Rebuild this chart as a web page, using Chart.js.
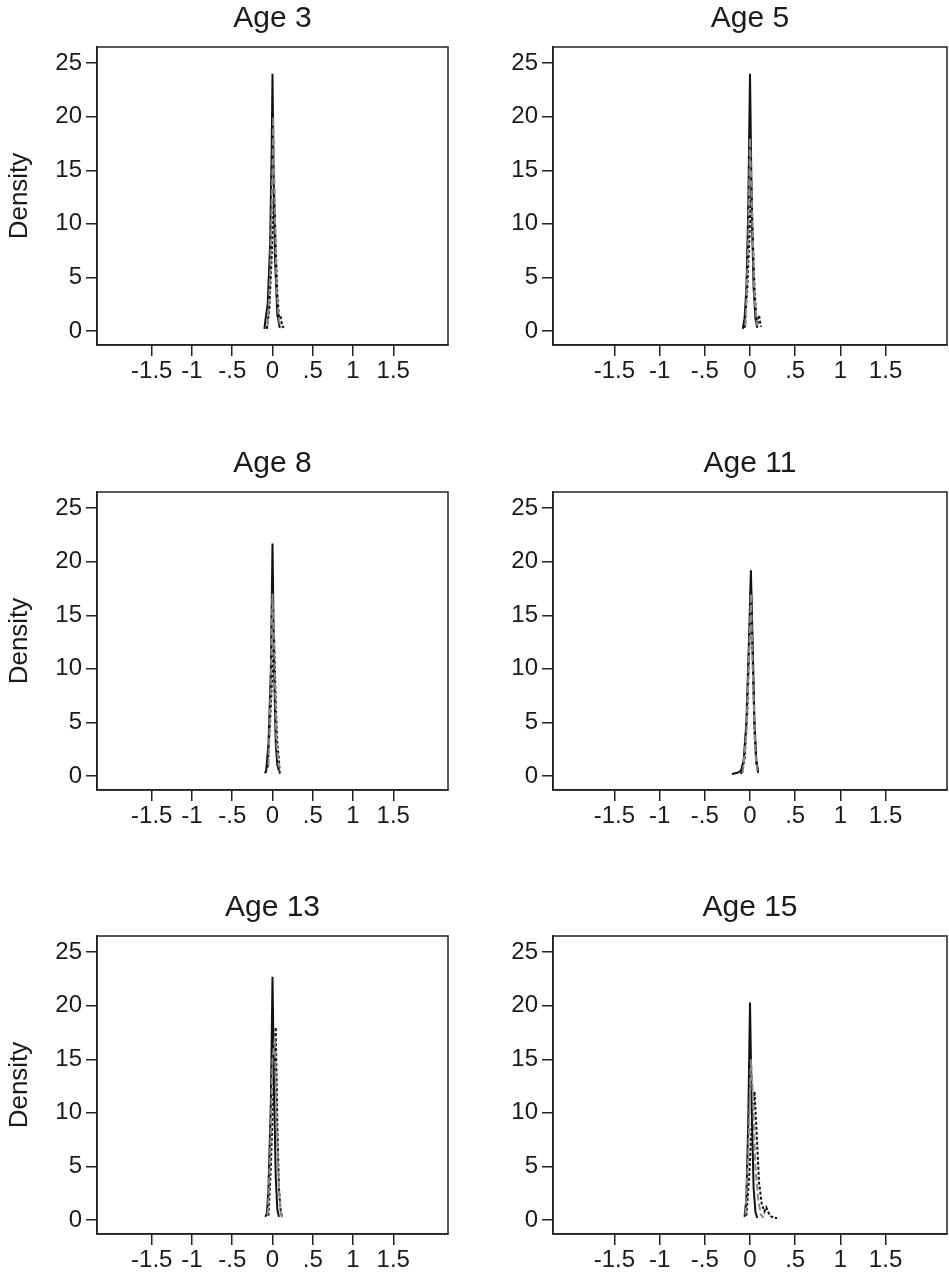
<!DOCTYPE html>
<html>
<head>
<meta charset="utf-8">
<script src="https://cdn.jsdelivr.net/npm/chart.js@4.4.0/dist/chart.umd.min.js"></script>
<style>
  html, body { margin: 0; padding: 0; background: #fff; overflow: hidden; }
  #wrap { position: relative; width: 949px; height: 1274px; }
  canvas { position: absolute; }
</style>
</head>
<body>
<div id="wrap">
  <canvas id="p0" width="470" height="389" style="left:0px;top:0px"></canvas>
  <canvas id="p1" width="479" height="389" style="left:470px;top:0px"></canvas>
  <canvas id="p2" width="470" height="389" style="left:0px;top:445px"></canvas>
  <canvas id="p3" width="479" height="389" style="left:470px;top:445px"></canvas>
  <canvas id="p4" width="470" height="389" style="left:0px;top:889px"></canvas>
  <canvas id="p5" width="479" height="389" style="left:470px;top:889px"></canvas>
</div>
<script>
// panel titles
const ages = ["Age 3", "Age 5", "Age 8", "Age 11", "Age 13", "Age 15"];

// axis ticks
const xTicks = [-1.5, -1, -0.5, 0, 0.5, 1, 1.5];
const xTickLabels = ["-1.5", "-1", "-.5", "0", ".5", "1", "1.5"];
const yTicks = [0, 5, 10, 15, 20, 25];

// density curves, [x, density] pairs
const age3Solid = [[-0.1,0.2],[-0.09,0.9],[-0.06,2.5],[-0.03,8],[-0.01,17],[0,24],[0.01,17],[0.03,7],[0.06,1.5],[0.09,0.3]];
const age3Dash  = [[-0.07,0.2],[-0.04,2],[-0.01,7],[0.02,13],[0.04,8],[0.06,3.5],[0.08,1.3],[0.1,1.4],[0.12,0.5],[0.14,0.3]];
const age3Gray  = [[-0.06,0.5],[-0.03,5],[0,15],[0.01,20],[0.03,11],[0.05,4],[0.08,1],[0.11,0.3]];

const age5Solid = [[-0.08,0.2],[-0.06,1.2],[-0.04,4],[-0.02,11],[0,24],[0.02,11],[0.04,4],[0.06,1.2],[0.08,0.3]];
const age5Dash  = [[-0.06,0.3],[-0.03,4],[0,10],[0.01,15],[0.03,9],[0.05,4],[0.07,1.3],[0.08,0.5],[0.1,1.5],[0.12,0.4]];
const age5Gray  = [[-0.05,0.5],[-0.02,8],[0,18],[0.02,12],[0.05,3],[0.08,0.5]];

const age8Solid = [[-0.1,0.3],[-0.08,0.4],[-0.05,3],[-0.02,10],[0,21.7],[0.02,10],[0.04,3],[0.06,1],[0.08,0.5]];
const age8Dash  = [[-0.06,0.8],[-0.03,5],[0,10],[0.02,13],[0.04,7],[0.06,3],[0.08,1.5],[0.09,0.3],[0.11,0.3]];
const age8Gray  = [[-0.05,1],[-0.02,9],[0,17],[0.02,12],[0.05,3],[0.08,0.8]];

const age11Solid = [[-0.2,0.2],[-0.14,0.3],[-0.1,0.5],[-0.07,1.5],[-0.04,5],[-0.01,13],[0.01,19.2],[0.03,12],[0.05,5],[0.07,1.5],[0.09,0.4]];
const age11Dash  = [[-0.1,0.2],[-0.06,1.5],[-0.03,6],[0,14],[0.01,18],[0.03,11],[0.05,4],[0.07,1.2],[0.09,0.3]];
const age11Gray  = [[-0.08,0.3],[-0.04,4],[0,14],[0.01,17],[0.03,10],[0.06,2],[0.08,0.5]];

const age13Solid = [[-0.09,0.3],[-0.07,0.6],[-0.05,3],[-0.02,11],[0,22.7],[0.02,12],[0.04,4],[0.06,1],[0.08,0.3]];
const age13Dash  = [[-0.05,0.4],[-0.02,5],[0.01,12],[0.04,18],[0.06,9],[0.08,3],[0.1,1],[0.12,0.2]];
const age13Gray  = [[-0.06,0.5],[-0.03,6],[0,15],[0.03,17],[0.05,9],[0.08,3],[0.1,0.8],[0.12,0.2]];

const age15Solid = [[-0.06,0.3],[-0.04,2],[-0.02,9],[0,20.3],[0.02,10],[0.04,3],[0.06,0.8],[0.08,0.2]];
const age15Dash  = [[-0.04,0.4],[-0.01,4],[0.02,9],[0.05,12],[0.08,7],[0.1,3.5],[0.13,1.5],[0.16,0.8],[0.18,1.2],[0.22,0.4],[0.27,0.2],[0.3,0.2]];
const age15Gray  = [[-0.05,0.5],[-0.02,6],[0.01,15],[0.03,12],[0.06,5],[0.09,2],[0.12,0.5],[0.15,0.2]];

const solids = [age3Solid, age5Solid, age8Solid, age11Solid, age13Solid, age15Solid];
const dashes = [age3Dash, age5Dash, age8Dash, age11Dash, age13Dash, age15Dash];
const grays  = [age3Gray, age5Gray, age8Gray, age11Gray, age13Gray, age15Gray];

const FONT = "'Liberation Sans', Arial, sans-serif";
const INK = '#1a1a1a';

// full box round the plot area
const frame = {
  id: 'frame',
  afterDraw(chart) {
    const {left, top, right, bottom} = chart.chartArea;
    const ctx = chart.ctx;
    ctx.save();
    ctx.strokeStyle = '#222';
    ctx.lineWidth = 1.5;
    ctx.strokeRect(left, top, right - left, bottom - top);
    ctx.restore();
  }
};

function toPts(arr) {
  return arr.map(p => ({x: p[0], y: p[1]}));
}

function makePanel(i) {
  const isLeft = i % 2 === 0;
  const ctx = document.getElementById('p' + i);
  return new Chart(ctx, {
    type: 'scatter',
    data: {
      datasets: [
        { label: 'gray', data: toPts(grays[i]), showLine: true, borderColor: '#8a8a8a', borderWidth: 2, borderDash: [7, 3], pointRadius: 0 },
        { label: 'dash', data: toPts(dashes[i]), showLine: true, borderColor: '#111', borderWidth: 2, borderDash: [3, 2], pointRadius: 0 },
        { label: 'solid', data: toPts(solids[i]), showLine: true, borderColor: '#111', borderWidth: 2, pointRadius: 0 }
      ]
    },
    options: {
      responsive: false,
      animation: false,
      layout: { padding: { left: 0, right: isLeft ? 22 : 2, top: 0, bottom: 0 } },
      plugins: {
        legend: { display: false },
        tooltip: { enabled: false },
        title: {
          display: true,
          fullSize: false,
          text: ages[i],
          color: INK,
          font: { family: FONT, size: 30, weight: 'normal' },
          padding: { top: 1, bottom: 10 }
        }
      },
      scales: {
        x: {
          type: 'linear',
          min: -2.18,
          max: 2.18,
          afterBuildTicks: s => { s.ticks = xTicks.map(v => ({value: v})); },
          afterFit: s => { s.height = 44; },
          ticks: {
            color: INK,
            font: { family: FONT, size: 24 },
            padding: 1,
            maxRotation: 0,
            autoSkip: false,
            callback: v => xTickLabels[xTicks.indexOf(v)]
          },
          grid: { display: true, drawOnChartArea: false, drawTicks: true, tickLength: 11, color: '#222', lineWidth: 1.5 },
          border: { display: true, color: '#222', width: 1.5 }
        },
        y: {
          type: 'linear',
          min: -1.3,
          max: 26.5,
          afterBuildTicks: s => { s.ticks = yTicks.map(v => ({value: v})); },
          afterFit: s => { s.width = isLeft ? 97 : 83; },
          title: {
            display: isLeft,
            text: 'Density',
            color: INK,
            font: { family: FONT, size: 26 },
            padding: { top: 4, bottom: 0 }
          },
          ticks: {
            color: INK,
            font: { family: FONT, size: 24 },
            padding: 4
          },
          grid: { display: true, drawOnChartArea: false, drawTicks: true, tickLength: 11, color: '#222', lineWidth: 1.5 },
          border: { display: true, color: '#222', width: 1.5 }
        }
      }
    },
    plugins: [frame]
  });
}

const charts = ages.map((a, i) => makePanel(i));
</script>
</body>
</html>
